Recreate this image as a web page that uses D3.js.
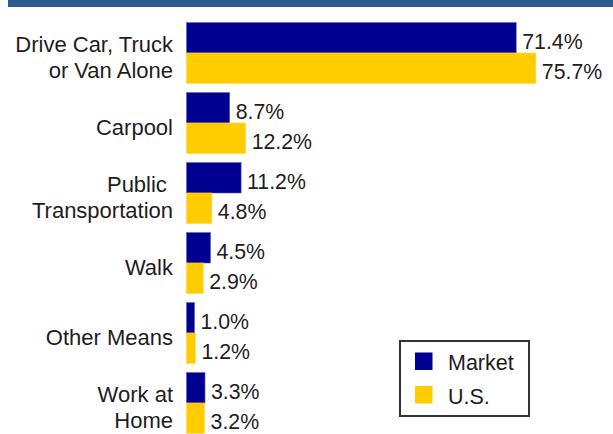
<!DOCTYPE html>
<html>
<head>
<meta charset="utf-8">
<script src="https://cdn.jsdelivr.net/npm/d3@7"></script>
<style>
  body { margin: 0; background: #fff; }
  svg { display: block; font-family: "Liberation Sans", Arial, sans-serif; }
</style>
</head>
<body>
<div id="chart"></div>
<script>
// data
var categories = ["Drive Car, Truck|or Van Alone", "Carpool", "Public |Transportation", "Walk", "Other Means", "Work at|Home"];
var market_values = [71.4, 8.7, 11.2, 4.5, 1.0, 3.3];
var us_values = [75.7, 12.2, 4.8, 2.9, 1.2, 3.2];
var series_names = ["Market", "U.S."];

var svg_width = 613, svg_height = 434;
var colors = {"Market": "#000090", "U.S.": "#ffcc00"};
var text_color = "#1f1c1e";

var rows = categories.map(function(c, i) {
    return {cat: c, values: [
        {key: "Market", v: market_values[i]},
        {key: "U.S.", v: us_values[i]}
    ]};
});

var svg = d3.select("#chart").append("svg")
    .attr("width", svg_width)
    .attr("height", svg_height);

// top band
svg.append("rect")
    .attr("x", 8).attr("y", 0)
    .attr("width", svg_width - 8).attr("height", 7)
    .attr("fill", "#2e5b8e");

var x = d3.scaleLinear()
    .domain([-0.75, 80])
    .range([186.5, 555.5]);

var y = d3.scaleBand()
    .domain(categories)
    .range([18, 438])
    .paddingInner(0.13)
    .paddingOuter(0.065);

var y_inner = d3.scaleBand()
    .domain(series_names)
    .range([0, y.bandwidth()]);

var groups = svg.selectAll("g.group")
    .data(rows)
    .join("g")
    .attr("class", "group")
    .attr("transform", d => "translate(0," + y(d.cat) + ")");

groups.selectAll("rect")
    .data(d => d.values)
    .join("rect")
    .attr("x", x(x.domain()[0]))
    .attr("y", d => y_inner(d.key))
    .attr("width", d => x(d.v) - x(x.domain()[0]))
    .attr("height", y_inner.bandwidth())
    .attr("fill", d => colors[d.key])
    .attr("stroke", d => d.key == "Market" ? "#5c5cc0" : "#ffd84a")
    .attr("stroke-width", 0.6);

// value labels
groups.selectAll("text.val")
    .data(d => d.values)
    .join("text")
    .attr("class", "val")
    .attr("x", d => x(d.v) + 6)
    .attr("y", d => y_inner(d.key) + y_inner.bandwidth() / 2 + 11)
    .attr("fill", text_color)
    .style("font-size", "21.3px")
    .text(d => d.v.toFixed(1) + "%");

// category labels
groups.each(function(d) {
    var lines = d.cat.split("|");
    var g = d3.select(this);
    var mid = y.bandwidth() / 2 + 12;
    var line_h = 26;
    lines.forEach(function(line, j) {
        g.append("text")
            .attr("x", 173)
            .attr("y", mid + (j - (lines.length - 1) / 2) * line_h)
            .attr("text-anchor", "end")
            .attr("fill", text_color)
            .style("font-size", "22px")
            .style("white-space", "pre")
            .text(line);
    });
});

// legend
var legend = svg.append("g").attr("transform", "translate(400,341)");
legend.append("rect")
    .attr("x", 0).attr("y", 0)
    .attr("width", 129).attr("height", 75)
    .attr("fill", "#fff")
    .attr("stroke", "#333")
    .attr("stroke-width", 2);

var items = legend.selectAll("g.item")
    .data(series_names)
    .join("g")
    .attr("class", "item")
    .attr("transform", (d, i) => "translate(15," + (11.5 + i * 33.5) + ")");

items.append("rect")
    .attr("width", 17.5).attr("height", 17.5)
    .attr("fill", d => colors[d]);

items.append("text")
    .attr("x", 33)
    .attr("y", 17.5)
    .attr("fill", text_color)
    .style("font-size", "21.5px")
    .text(d => d);
</script>
</body>
</html>
